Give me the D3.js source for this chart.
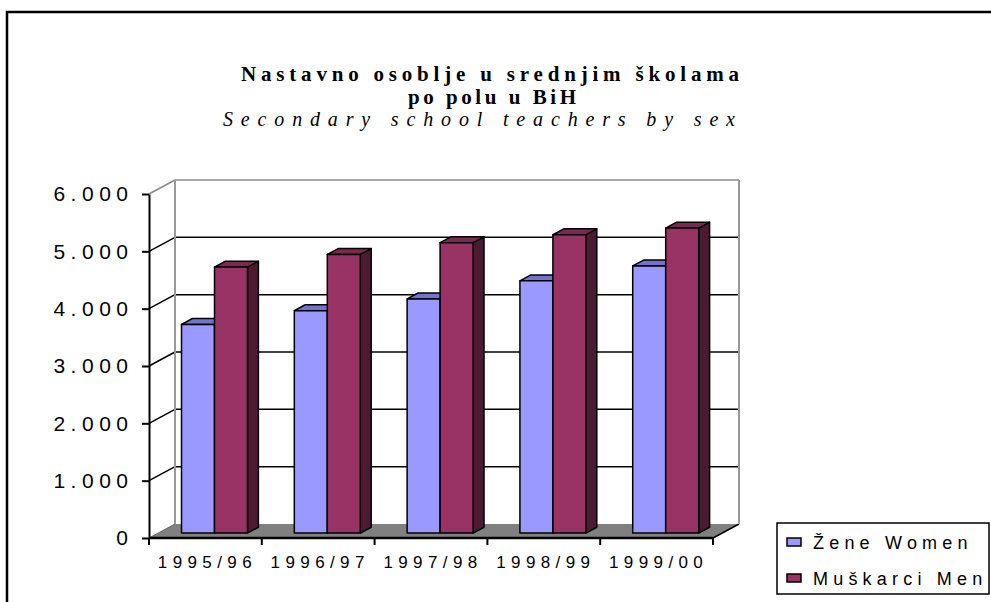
<!DOCTYPE html>
<html>
<head>
<meta charset="utf-8">
<script src="https://cdn.jsdelivr.net/npm/d3@7"></script>
<style>
  html, body { margin: 0; padding: 0; background: #fff; }
  svg { display: block; }
</style>
</head>
<body>
<div id="chart"></div>
<script>
// values
const categories = ["1995/96", "1996/97", "1997/98", "1998/99", "1999/00"];
const women = [3640, 3880, 4085, 4400, 4660];
const men = [4640, 4860, 5065, 5205, 5320];
const seriesNames = ["Žene Women", "Muškarci Men"];
const yTicks = [0, 1000, 2000, 3000, 4000, 5000, 6000];
const titleLines = ["Nastavno osoblje u srednjim školama", "po polu u BiH"];
const subtitle = "Secondary school teachers by sex";

const WIDTH = 991, HEIGHT = 602;
const colors = {
    front: ["#9999ff", "#993366"],
    top:   ["#7373cc", "#7a2952"],
    side:  ["#4d4d80", "#4d1a33"]
};

// 3d geometry: front plane + depth offset
const X0 = 149, X1 = 713, Y0 = 538, YTOP = 194;
const DX = 26, DY = -14;           // wall depth
const BF = 0.35, BB = 0.77;        // bar front / back as fraction of depth

const locale = d3.formatLocale({ decimal: ",", thousands: ".", grouping: [3], currency: ["", ""] });
const fmt = locale.format(",d");

const svg = d3.select("#chart").append("svg")
    .attr("width", WIDTH)
    .attr("height", HEIGHT);

// outer frame
svg.append("rect")
    .attr("x", 7).attr("y", 12)
    .attr("width", 1200).attr("height", 800)
    .attr("fill", "none").attr("stroke", "#000").attr("stroke-width", 2.5);

// titles (stretched letter spacing like the original)
function titleText(txt, cx, by, width, font) {
    svg.append("text")
        .attr("x", cx).attr("y", by)
        .attr("text-anchor", "middle")
        .attr("textLength", width).attr("lengthAdjust", "spacing")
        .style("font", font)
        .text(txt);
}
titleText(titleLines[0], 490, 81, 498, "bold 21px 'Liberation Serif', serif");
titleText(titleLines[1], 492, 104, 168, "bold 21px 'Liberation Serif', serif");
titleText(subtitle, 479, 126, 512, "italic 20px 'Liberation Serif', serif");

// scales
const y = d3.scaleLinear().domain([0, 6000]).range([Y0, YTOP]);
const x0 = d3.scaleBand().domain(categories).range([X0, X1]);
const x1 = d3.scaleBand().domain(seriesNames).range([0, x0.bandwidth()]).paddingOuter(0.71);

const g = svg.append("g");

// floor
g.append("path")
    .attr("d", `M${X0},${Y0} L${X1},${Y0} L${X1 + DX},${Y0 + DY} L${X0 + DX},${Y0 + DY} Z`)
    .attr("fill", "#808080").attr("stroke", "none");
g.append("line")
    .attr("x1", X1).attr("y1", Y0).attr("x2", X1 + DX).attr("y2", Y0 + DY)
    .attr("stroke", "#000").attr("stroke-width", 1.5);
g.append("line")
    .attr("x1", X0).attr("y1", Y0).attr("x2", X0 + DX).attr("y2", Y0 + DY)
    .attr("stroke", "#666").attr("stroke-width", 1);

// gridlines on side and back wall
const grid = yTicks.filter(d => d > 0);
g.selectAll(".grid-back").data(grid).enter().append("line")
    .attr("x1", X0 + DX).attr("x2", X1 + DX)
    .attr("y1", d => y(d) + DY).attr("y2", d => y(d) + DY)
    .attr("stroke", d => d === 6000 ? "#888" : "#000")
    .attr("stroke-width", 1.5);
g.selectAll(".grid-side").data(grid).enter().append("line")
    .attr("x1", X0).attr("x2", X0 + DX)
    .attr("y1", d => y(d)).attr("y2", d => y(d) + DY)
    .attr("stroke", d => d === 6000 ? "#888" : "#000")
    .attr("stroke-width", 1.5);

// back wall edges
g.append("line")
    .attr("x1", X0 + DX).attr("x2", X0 + DX)
    .attr("y1", y(6000) + DY).attr("y2", Y0 + DY)
    .attr("stroke", "#999").attr("stroke-width", 2);
g.append("line")
    .attr("x1", X1 + DX).attr("x2", X1 + DX)
    .attr("y1", y(6000) + DY).attr("y2", Y0 + DY)
    .attr("stroke", "#999").attr("stroke-width", 2);

// bars
const bars = [];
categories.forEach((c, i) => {
    [women[i], men[i]].forEach((v, s) => bars.push({ c, s, v }));
});

const fx = BF * DX, fy = BF * DY;                // front face shift
const bx = (BB - BF) * DX, by = (BB - BF) * DY;  // bar depth

const bar = g.selectAll(".bar").data(bars).enter().append("g").attr("class", "bar");
bar.each(function(d) {
    const gx = x0(d.c) + x1(seriesNames[d.s]) + fx;
    const w = x1.bandwidth();
    const top = y(d.v) + fy, bot = y(0) + fy;
    const sel = d3.select(this);
    const st = { stroke: "#000", "stroke-width": 1.5, "stroke-linejoin": "round" };
    const side = sel.append("path")
        .attr("d", `M${gx + w},${bot} L${gx + w + bx},${bot + by} L${gx + w + bx},${top + by} L${gx + w},${top} Z`)
        .attr("fill", colors.side[d.s]);
    const topFace = sel.append("path")
        .attr("d", `M${gx},${top} L${gx + bx},${top + by} L${gx + w + bx},${top + by} L${gx + w},${top} Z`)
        .attr("fill", colors.top[d.s]);
    const front = sel.append("rect")
        .attr("x", gx).attr("y", top)
        .attr("width", w).attr("height", bot - top)
        .attr("fill", colors.front[d.s]);
    [side, topFace, front].forEach(p => Object.entries(st).forEach(([k, v]) => p.attr(k, v)));
});

// y axis
const yAxis = d3.axisLeft(y)
    .tickValues(yTicks)
    .tickFormat(fmt)
    .tickSize(7)
    .tickSizeOuter(0)
    .tickPadding(14);
const ya = svg.append("g")
    .attr("transform", `translate(${X0},0)`)
    .call(yAxis);
ya.select(".domain").attr("stroke", "#000").attr("stroke-width", 2);
ya.selectAll(".tick line").attr("stroke", "#000").attr("stroke-width", 2);
ya.selectAll(".tick text")
    .attr("fill", "#000")
    .style("font-family", "'Liberation Sans', Arial, sans-serif")
    .style("font-size", "21px")
    .style("letter-spacing", "5.5px")
    .attr("dx", "5.5px");

// x axis: line, boundary ticks, labels at band centers
svg.append("line")
    .attr("x1", X0).attr("x2", X1).attr("y1", Y0).attr("y2", Y0)
    .attr("stroke", "#000").attr("stroke-width", 2.5);
const bounds = categories.map(c => x0(c)).concat([X1]);
svg.selectAll(".xtick").data(bounds).enter().append("line")
    .attr("x1", d => d).attr("x2", d => d)
    .attr("y1", Y0).attr("y2", Y0 + 7)
    .attr("stroke", "#000").attr("stroke-width", 2);
const xAxis = d3.axisBottom(x0).tickSize(0).tickPadding(0);
const xa = svg.append("g")
    .attr("transform", `translate(0,${Y0 + 18})`)
    .call(xAxis);
xa.select(".domain").remove();
xa.selectAll(".tick text")
    .attr("fill", "#000")
    .attr("dx", "2px")
    .style("font-family", "'Liberation Sans', Arial, sans-serif")
    .style("font-size", "17px")
    .style("letter-spacing", "5.4px");

// legend
const legend = svg.append("g");
legend.append("rect")
    .attr("x", 777).attr("y", 523)
    .attr("width", 212).attr("height", 71)
    .attr("fill", "#fff").attr("stroke", "#000").attr("stroke-width", 1.5);
const item = legend.selectAll(".item").data(seriesNames).enter().append("g")
    .attr("transform", (d, i) => `translate(787,${542 + i * 36})`);
item.append("rect")
    .attr("x", 0).attr("y", -4).attr("width", 14).attr("height", 8)
    .attr("fill", (d, i) => colors.front[i])
    .attr("stroke", "#000").attr("stroke-width", 1.5);
item.append("text")
    .attr("x", 26).attr("y", 7)
    .style("font-family", "'Liberation Sans', Arial, sans-serif")
    .style("font-size", "18px")
    .style("letter-spacing", "5.2px")
    .text(d => d);
</script>
</body>
</html>
